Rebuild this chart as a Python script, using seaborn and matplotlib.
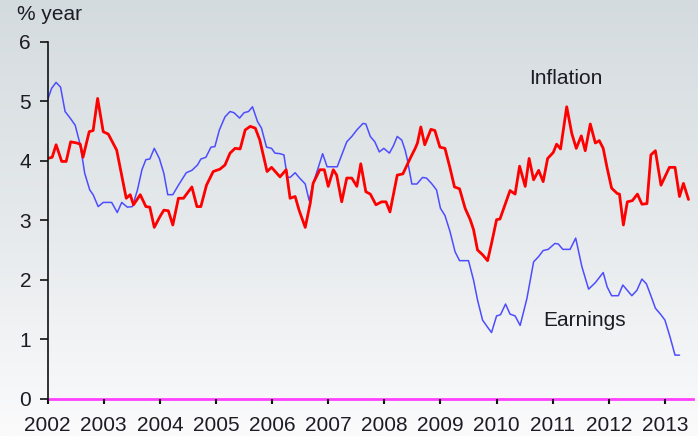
import numpy as np
import matplotlib
matplotlib.use("Agg")
import matplotlib.pyplot as plt
import seaborn as sns
from matplotlib.colors import LinearSegmentedColormap

# ---- data ----
infl_t = [2002.00, 2002.08, 2002.15, 2002.25, 2002.33, 2002.41, 2002.52, 2002.58, 2002.63, 2002.74,
          2002.81, 2002.89, 2002.99, 2003.08, 2003.23, 2003.40, 2003.47, 2003.53, 2003.65, 2003.75,
          2003.82, 2003.90, 2004.00, 2004.07, 2004.15, 2004.23, 2004.33, 2004.42, 2004.57, 2004.66,
          2004.73, 2004.83, 2004.95, 2005.07, 2005.16, 2005.25, 2005.34, 2005.43, 2005.52, 2005.61,
          2005.70, 2005.78, 2005.91, 2005.99, 2006.14, 2006.25, 2006.32, 2006.41, 2006.48, 2006.59,
          2006.68, 2006.73, 2006.85, 2006.93, 2007.00, 2007.09, 2007.15, 2007.24, 2007.33, 2007.42,
          2007.51, 2007.58, 2007.67, 2007.75, 2007.85, 2007.95, 2008.03, 2008.10, 2008.23, 2008.33,
          2008.46, 2008.55, 2008.59, 2008.65, 2008.72, 2008.83, 2008.90, 2008.99, 2009.08, 2009.17,
          2009.25, 2009.34, 2009.44, 2009.53, 2009.59, 2009.66, 2009.75, 2009.84, 2009.91, 2010.00,
          2010.06, 2010.15, 2010.24, 2010.33, 2010.41, 2010.51, 2010.58, 2010.66, 2010.75, 2010.83,
          2010.91, 2011.01, 2011.07, 2011.14, 2011.25, 2011.34, 2011.42, 2011.51, 2011.58, 2011.67,
          2011.76, 2011.83, 2011.90, 2011.97, 2012.05, 2012.15, 2012.19, 2012.26, 2012.33, 2012.42,
          2012.51, 2012.59, 2012.68, 2012.75, 2012.83, 2012.93, 2013.00, 2013.08, 2013.18, 2013.26,
          2013.33, 2013.42]
infl_v = [4.04, 4.06, 4.27, 3.99, 3.99, 4.32, 4.30, 4.28, 4.06, 4.49,
          4.51, 5.05, 4.49, 4.45, 4.18, 3.37, 3.43, 3.26, 3.43, 3.23,
          3.22, 2.88, 3.06, 3.17, 3.16, 2.92, 3.37, 3.37, 3.56, 3.23,
          3.23, 3.59, 3.82, 3.86, 3.93, 4.13, 4.21, 4.20, 4.52, 4.58,
          4.55, 4.35, 3.82, 3.89, 3.73, 3.85, 3.37, 3.40, 3.17, 2.88,
          3.29, 3.62, 3.85, 3.85, 3.57, 3.85, 3.76, 3.31, 3.71, 3.71,
          3.57, 3.95, 3.48, 3.44, 3.26, 3.31, 3.31, 3.14, 3.76, 3.78,
          4.04, 4.21, 4.30, 4.57, 4.27, 4.53, 4.51, 4.23, 4.21, 3.88,
          3.56, 3.53, 3.20, 3.01, 2.84, 2.50, 2.42, 2.32, 2.61, 3.01,
          3.02, 3.26, 3.50, 3.44, 3.91, 3.57, 4.04, 3.68, 3.84, 3.65,
          4.04, 4.14, 4.28, 4.20, 4.91, 4.46, 4.21, 4.42, 4.17, 4.62,
          4.30, 4.34, 4.21, 3.88, 3.54, 3.45, 3.44, 2.92, 3.31, 3.33,
          3.44, 3.27, 3.28, 4.10, 4.17, 3.59, 3.73, 3.89, 3.89, 3.40,
          3.62, 3.35]

earn_t = [2002.00, 2002.07, 2002.15, 2002.23, 2002.31, 2002.40, 2002.49, 2002.58, 2002.66, 2002.75,
          2002.81, 2002.90, 2002.99, 2003.14, 2003.24, 2003.32, 2003.42, 2003.51, 2003.60, 2003.68,
          2003.75, 2003.82, 2003.90, 2003.99, 2004.07, 2004.14, 2004.23, 2004.33, 2004.47, 2004.57,
          2004.67, 2004.73, 2004.82, 2004.91, 2004.98, 2005.06, 2005.16, 2005.25, 2005.32, 2005.42,
          2005.50, 2005.58, 2005.65, 2005.74, 2005.81, 2005.90, 2005.99, 2006.05, 2006.14, 2006.21,
          2006.27, 2006.32, 2006.41, 2006.49, 2006.59, 2006.66, 2006.73, 2006.82, 2006.90, 2006.98,
          2007.08, 2007.16, 2007.24, 2007.33, 2007.42, 2007.51, 2007.62, 2007.67, 2007.75, 2007.83,
          2007.91, 2007.99, 2008.09, 2008.16, 2008.23, 2008.31, 2008.37, 2008.41, 2008.49, 2008.58,
          2008.68, 2008.75, 2008.84, 2008.93, 2009.00, 2009.08, 2009.17, 2009.26, 2009.34, 2009.50,
          2009.59, 2009.66, 2009.75, 2009.84, 2009.91, 2010.00, 2010.07, 2010.16, 2010.24, 2010.33,
          2010.42, 2010.54, 2010.66, 2010.75, 2010.83, 2010.92, 2011.04, 2011.10, 2011.18, 2011.31,
          2011.41, 2011.52, 2011.64, 2011.76, 2011.90, 2011.97, 2012.05, 2012.17, 2012.25, 2012.33,
          2012.41, 2012.50, 2012.59, 2012.67, 2012.75, 2012.83, 2012.92, 2013.00, 2013.09, 2013.18,
          2013.26]
earn_v = [5.03, 5.22, 5.32, 5.24, 4.83, 4.72, 4.60, 4.27, 3.79, 3.51,
          3.43, 3.23, 3.30, 3.30, 3.13, 3.30, 3.22, 3.23, 3.51, 3.85,
          4.02, 4.03, 4.21, 4.04, 3.79, 3.43, 3.43, 3.59, 3.80, 3.84,
          3.93, 4.03, 4.06, 4.23, 4.24, 4.52, 4.74, 4.83, 4.81, 4.72,
          4.81, 4.83, 4.91, 4.66, 4.55, 4.23, 4.21, 4.13, 4.12, 4.10,
          3.73, 3.72, 3.80, 3.71, 3.61, 3.33, 3.62, 3.88, 4.12, 3.90,
          3.90, 3.90, 4.10, 4.32, 4.41, 4.52, 4.63, 4.62, 4.41, 4.32,
          4.15, 4.21, 4.13, 4.25, 4.41, 4.35, 4.18, 4.02, 3.61, 3.61,
          3.72, 3.71, 3.62, 3.51, 3.20, 3.08, 2.81, 2.47, 2.32, 2.32,
          1.99, 1.66, 1.32, 1.20, 1.11, 1.39, 1.41, 1.59, 1.42, 1.39,
          1.23, 1.68, 2.30, 2.39, 2.49, 2.51, 2.61, 2.60, 2.51, 2.51,
          2.70, 2.22, 1.84, 1.95, 2.12, 1.88, 1.73, 1.73, 1.91, 1.82,
          1.73, 1.82, 2.01, 1.93, 1.73, 1.52, 1.42, 1.32, 1.04, 0.73,
          0.73]

year_ticks = list(range(2002, 2014))
y_ticks = [0, 1, 2, 3, 4, 5, 6]
series_labels = ["Inflation", "Earnings"]
y_unit_label = "% year"

# ---- style ----
sns.set_theme(style="white")
plt.rcParams['font.family'] = ['Liberation Sans', 'DejaVu Sans']
text_color = '#1c1c24'
fs = 15

fig = plt.figure(figsize=(6.98, 4.36), dpi=100)

# background gradient over the whole figure
bg = fig.add_axes([0, 0, 1, 1], zorder=0)
grad = np.linspace(0, 1, 256).reshape(-1, 1)
cmap = LinearSegmentedColormap.from_list('bg', ['#d4dbdf', '#e5e9eb', '#fbfbfc'])
bg.imshow(grad, aspect='auto', cmap=cmap, extent=[0, 1, 0, 1], origin='upper')
bg.axis('off')

ax = fig.add_axes([0.0683, 0.0860, 0.9245, 0.8177], zorder=1)
ax.patch.set_alpha(0)

sns.lineplot(x=earn_t, y=earn_v, color='#4d4dff', linewidth=1.1, ax=ax,
             estimator=None, sort=False)
sns.lineplot(x=infl_t, y=infl_v, color='#ff0000', linewidth=2.0, ax=ax,
             estimator=None, sort=False)

ax.set_xlim(2002, 2013.5)
ax.set_ylim(0, 6)
ax.set_xticks(year_ticks)
ax.set_xticklabels([str(y) for y in year_ticks])
ax.set_yticks(y_ticks)
ax.set_yticklabels([str(v) for v in y_ticks])
ax.set_xlabel('')
ax.set_ylabel('')

for s in ['top', 'right']:
    ax.spines[s].set_visible(False)
ax.spines['left'].set_color('#111111')
ax.spines['left'].set_linewidth(1.2)
ax.spines['left'].set_bounds(0, 6)
ax.spines['bottom'].set_color('#ff40ff')
ax.spines['bottom'].set_linewidth(2.0)
ax.spines['bottom'].set_zorder(0.5)

ax.tick_params(axis='y', direction='out', length=6, width=1.2, color='#111111',
               labelsize=fs, labelcolor=text_color, pad=6, left=True)
ax.tick_params(axis='x', direction='out', length=3.5, width=1.5, color='#111111',
               labelsize=fs, labelcolor=text_color, pad=9, bottom=True)

ax.text(2011.24, 5.38, series_labels[0], ha='center', va='center',
        fontsize=fs, color=text_color)
ax.text(2011.56, 1.31, series_labels[1], ha='center', va='center',
        fontsize=fs, color=text_color)
fig.text(17 / 698, 1 - 14 / 436, y_unit_label, ha='left', va='center',
         fontsize=fs, color=text_color)

fig.savefig('out.png', dpi=100)
